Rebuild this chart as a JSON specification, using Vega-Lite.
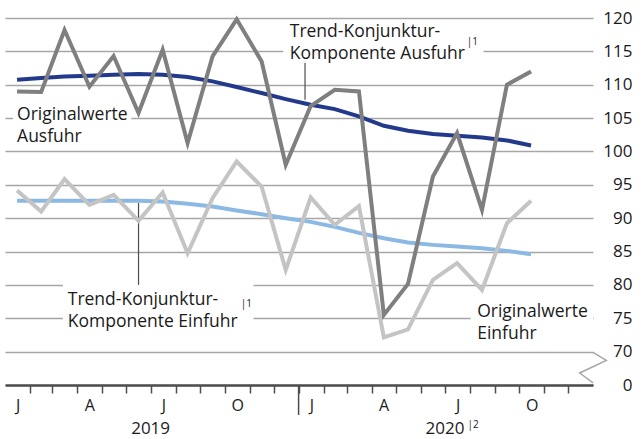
{
  "$schema": "https://vega.github.io/schema/vega-lite/v6.json",
  "width": 588,
  "height": 367,
  "autosize": "none",
  "padding": {"left": 5, "top": 18, "right": 51, "bottom": 54},
  "background": "white",
  "config": {
    "view": {"stroke": null},
    "font": "Open Sans",
    "axis": {"labelOverlap": false, "labelBound": false, "labelFlush": false},
    "text": {"font": "Open Sans", "color": "#1a1a1a"}
  },
  "datasets": {
    "series": [
      {"date": "2019-01-16", "ausfuhr": 109.0, "einfuhr": 94.15, "trendAusfuhr": 110.75, "trendEinfuhr": 92.6},
      {"date": "2019-02-15", "ausfuhr": 108.9, "einfuhr": 91.0, "trendAusfuhr": 111.0, "trendEinfuhr": 92.6},
      {"date": "2019-03-16", "ausfuhr": 118.2, "einfuhr": 95.85, "trendAusfuhr": 111.25, "trendEinfuhr": 92.6},
      {"date": "2019-04-16", "ausfuhr": 109.7, "einfuhr": 92.0, "trendAusfuhr": 111.35, "trendEinfuhr": 92.6},
      {"date": "2019-05-16", "ausfuhr": 114.3, "einfuhr": 93.5, "trendAusfuhr": 111.5, "trendEinfuhr": 92.6},
      {"date": "2019-06-16", "ausfuhr": 105.75, "einfuhr": 89.6, "trendAusfuhr": 111.6, "trendEinfuhr": 92.6},
      {"date": "2019-07-16", "ausfuhr": 115.25, "einfuhr": 93.85, "trendAusfuhr": 111.5, "trendEinfuhr": 92.5},
      {"date": "2019-08-16", "ausfuhr": 101.25, "einfuhr": 84.75, "trendAusfuhr": 111.15, "trendEinfuhr": 92.15},
      {"date": "2019-09-16", "ausfuhr": 114.25, "einfuhr": 93.0, "trendAusfuhr": 110.5, "trendEinfuhr": 91.75},
      {"date": "2019-10-16", "ausfuhr": 119.8, "einfuhr": 98.5, "trendAusfuhr": 109.65, "trendEinfuhr": 91.15},
      {"date": "2019-11-16", "ausfuhr": 113.5, "einfuhr": 94.75, "trendAusfuhr": 108.75, "trendEinfuhr": 90.6},
      {"date": "2019-12-16", "ausfuhr": 98.0, "einfuhr": 82.25, "trendAusfuhr": 107.85, "trendEinfuhr": 90.0},
      {"date": "2020-01-16", "ausfuhr": 106.8, "einfuhr": 93.1, "trendAusfuhr": 107.0, "trendEinfuhr": 89.45},
      {"date": "2020-02-15", "ausfuhr": 109.25, "einfuhr": 89.0, "trendAusfuhr": 106.35, "trendEinfuhr": 88.7},
      {"date": "2020-03-16", "ausfuhr": 109.0, "einfuhr": 91.8, "trendAusfuhr": 105.25, "trendEinfuhr": 87.8},
      {"date": "2020-04-16", "ausfuhr": 75.5, "einfuhr": 72.15, "trendAusfuhr": 103.85, "trendEinfuhr": 87.0},
      {"date": "2020-05-16", "ausfuhr": 80.15, "einfuhr": 73.35, "trendAusfuhr": 103.1, "trendEinfuhr": 86.35},
      {"date": "2020-06-16", "ausfuhr": 96.25, "einfuhr": 80.75, "trendAusfuhr": 102.6, "trendEinfuhr": 86.0},
      {"date": "2020-07-16", "ausfuhr": 102.75, "einfuhr": 83.25, "trendAusfuhr": 102.35, "trendEinfuhr": 85.75},
      {"date": "2020-08-16", "ausfuhr": 91.25, "einfuhr": 79.25, "trendAusfuhr": 102.1, "trendEinfuhr": 85.5},
      {"date": "2020-09-16", "ausfuhr": 110.0, "einfuhr": 89.25, "trendAusfuhr": 101.65, "trendEinfuhr": 85.1},
      {"date": "2020-10-16", "ausfuhr": 112.0, "einfuhr": 92.6, "trendAusfuhr": 100.9, "trendEinfuhr": 84.6}
    ],
    "boxes": [
      {"from": "2019-01-11", "to": "2019-06-07", "top": 107.5, "bottom": 101.0},
      {"from": "2019-12-13", "to": "2020-08-18", "top": 119.4, "bottom": 112.5},
      {"from": "2019-03-14", "to": "2019-11-06", "top": 80.3, "bottom": 73.0},
      {"from": "2020-08-02", "to": "2021-01-01", "top": 77.7, "bottom": 71.0}
    ],
    "leaders": [
      {"date": "2020-01-09", "top": 113.3, "bottom": 107.75},
      {"date": "2019-06-16", "top": 92.3, "bottom": 80.0}
    ],
    "divider": [
      {"date": "2020-01-01", "top": 65, "bottom": 60.5}
    ],
    "labels": [
      {"date": "2019-01-16", "value": 104.64, "text": ["Originalwerte", "Ausfuhr"]},
      {"date": "2019-12-21", "value": 117.1, "text": ["Trend-Konjunktur-", "Komponente Ausfuhr"]},
      {"date": "2019-03-20", "value": 77.0, "text": ["Trend-Konjunktur-", "Komponente Einfuhr"]},
      {"date": "2020-08-10", "value": 75.24, "text": ["Originalwerte", "Einfuhr"]}
    ],
    "sups": [
      {"date": "2020-07-28", "value": 116.0, "text": "|1"},
      {"date": "2019-10-21", "value": 76.65, "text": "|1"},
      {"date": "2020-07-29", "value": 58.6, "text": "|2"}
    ],
    "years": [
      {"date": "2019-07-01", "value": 57.6, "text": "2019"},
      {"date": "2020-07-01", "value": 57.6, "text": "2020"}
    ],
    "brk": [
      {"date": "2021-01-01", "value": 67.6}
    ]
  },
  "layer": [
    {
      "data": {"name": "boxes"},
      "mark": {"type": "rect", "fill": "white", "stroke": null},
      "encoding": {
        "x": {
          "field": "from", "type": "temporal",
          "scale": {"type": "utc", "domain": [{"year": 2019, "month": 1, "date": 1, "utc": true}, {"year": 2021, "month": 1, "date": 1, "utc": true}]},
          "axis": {
            "title": null,
            "grid": false,
            "tickCount": 40,
            "values": [
              {"year": 2019, "month": 2, "date": 1, "utc": true},
              {"year": 2019, "month": 3, "date": 1, "utc": true},
              {"year": 2019, "month": 4, "date": 1, "utc": true},
              {"year": 2019, "month": 5, "date": 1, "utc": true},
              {"year": 2019, "month": 6, "date": 1, "utc": true},
              {"year": 2019, "month": 7, "date": 1, "utc": true},
              {"year": 2019, "month": 8, "date": 1, "utc": true},
              {"year": 2019, "month": 9, "date": 1, "utc": true},
              {"year": 2019, "month": 10, "date": 1, "utc": true},
              {"year": 2019, "month": 11, "date": 1, "utc": true},
              {"year": 2019, "month": 12, "date": 1, "utc": true},
              {"year": 2020, "month": 1, "date": 1, "utc": true},
              {"year": 2020, "month": 2, "date": 1, "utc": true},
              {"year": 2020, "month": 3, "date": 1, "utc": true},
              {"year": 2020, "month": 4, "date": 1, "utc": true},
              {"year": 2020, "month": 5, "date": 1, "utc": true},
              {"year": 2020, "month": 6, "date": 1, "utc": true},
              {"year": 2020, "month": 7, "date": 1, "utc": true},
              {"year": 2020, "month": 8, "date": 1, "utc": true},
              {"year": 2020, "month": 9, "date": 1, "utc": true},
              {"year": 2020, "month": 10, "date": 1, "utc": true},
              {"year": 2020, "month": 11, "date": 1, "utc": true},
              {"year": 2020, "month": 12, "date": 1, "utc": true}
            ],
            "labelExpr": "utcmonth(datum.value) == 1 ? 'J' : utcmonth(datum.value) == 4 ? 'A' : utcmonth(datum.value) == 7 ? 'J' : utcmonth(datum.value) == 10 ? 'O' : ''",
            "labelOffset": -12.25,
            "labelOverlap": false,
            "labelBound": false,
            "labelFlush": false,
            "labelFont": "Open Sans",
            "labelFontSize": 16,
            "labelColor": "#1a1a1a",
            "labelPadding": 4,
            "domainColor": "#4d4d4d",
            "domainWidth": 2.5,
            "tickColor": "#4d4d4d",
            "tickWidth": 1.5,
            "tickSize": 8
          }
        },
        "x2": {"field": "to"},
        "y": {
          "field": "top", "type": "quantitative",
          "scale": {"domain": [65, 120], "nice": false, "zero": false},
          "axis": {
            "title": null,
            "orient": "right",
            "tickCount": 40,
            "values": [65, 70, 75, 80, 85, 90, 95, 100, 105, 110, 115, 120],
            "labelExpr": "datum.value == 65 ? '0' : datum.label",
            "labelOverlap": false,
            "grid": true,
            "gridColor": "#a6a6a6",
            "gridWidth": 1.5,
            "domain": false,
            "ticks": false,
            "labelAlign": "right",
            "labelBaseline": "middle",
            "labelPadding": 39,
            "labelFont": "Open Sans",
            "labelFontSize": 17,
            "labelColor": "#1a1a1a"
          }
        },
        "y2": {"field": "bottom"}
      }
    },
    {
      "data": {"name": "leaders"},
      "mark": {"type": "rule", "color": "#4d4d4d", "strokeWidth": 1.2},
      "encoding": {
        "x": {"field": "date", "type": "temporal"},
        "y": {"field": "top", "type": "quantitative"},
        "y2": {"field": "bottom"}
      }
    },
    {
      "data": {"name": "divider"},
      "mark": {"type": "rule", "color": "#4d4d4d", "strokeWidth": 1.5},
      "encoding": {
        "x": {"field": "date", "type": "temporal"},
        "y": {"field": "top", "type": "quantitative"},
        "y2": {"field": "bottom"}
      }
    },
    {
      "data": {"name": "series"},
      "mark": {"type": "line", "color": "#8cb9e3", "strokeWidth": 4},
      "encoding": {
        "x": {"field": "date", "type": "temporal"},
        "y": {"field": "trendEinfuhr", "type": "quantitative"}
      }
    },
    {
      "data": {"name": "series"},
      "mark": {"type": "line", "color": "#233a8c", "strokeWidth": 4},
      "encoding": {
        "x": {"field": "date", "type": "temporal"},
        "y": {"field": "trendAusfuhr", "type": "quantitative"}
      }
    },
    {
      "data": {"name": "series"},
      "mark": {"type": "line", "color": "#c4c4c4", "strokeWidth": 4},
      "encoding": {
        "x": {"field": "date", "type": "temporal"},
        "y": {"field": "einfuhr", "type": "quantitative"}
      }
    },
    {
      "data": {"name": "series"},
      "mark": {"type": "line", "color": "#7f7f7f", "strokeWidth": 4},
      "encoding": {
        "x": {"field": "date", "type": "temporal"},
        "y": {"field": "ausfuhr", "type": "quantitative"}
      }
    },
    {
      "data": {"name": "labels"},
      "mark": {"type": "text", "align": "left", "baseline": "alphabetic", "fontSize": 17.5, "lineHeight": 22},
      "encoding": {
        "x": {"field": "date", "type": "temporal"},
        "y": {"field": "value", "type": "quantitative"},
        "text": {"field": "text"}
      }
    },
    {
      "data": {"name": "sups"},
      "mark": {"type": "text", "align": "left", "baseline": "alphabetic", "fontSize": 10},
      "encoding": {
        "x": {"field": "date", "type": "temporal"},
        "y": {"field": "value", "type": "quantitative"},
        "text": {"field": "text"}
      }
    },
    {
      "data": {"name": "years"},
      "mark": {"type": "text", "align": "center", "baseline": "alphabetic", "fontSize": 17},
      "encoding": {
        "x": {"field": "date", "type": "temporal"},
        "y": {"field": "value", "type": "quantitative"},
        "text": {"field": "text"}
      }
    },
    {
      "data": {"name": "brk"},
      "mark": {"type": "point", "shape": "M0,-1L0.87,-0.48L-0.87,0.35L0,1", "size": 936, "filled": false, "stroke": "#a6a6a6", "strokeWidth": 1.5, "opacity": 1},
      "encoding": {
        "x": {"field": "date", "type": "temporal"},
        "y": {"field": "value", "type": "quantitative"}
      }
    }
  ]
}
